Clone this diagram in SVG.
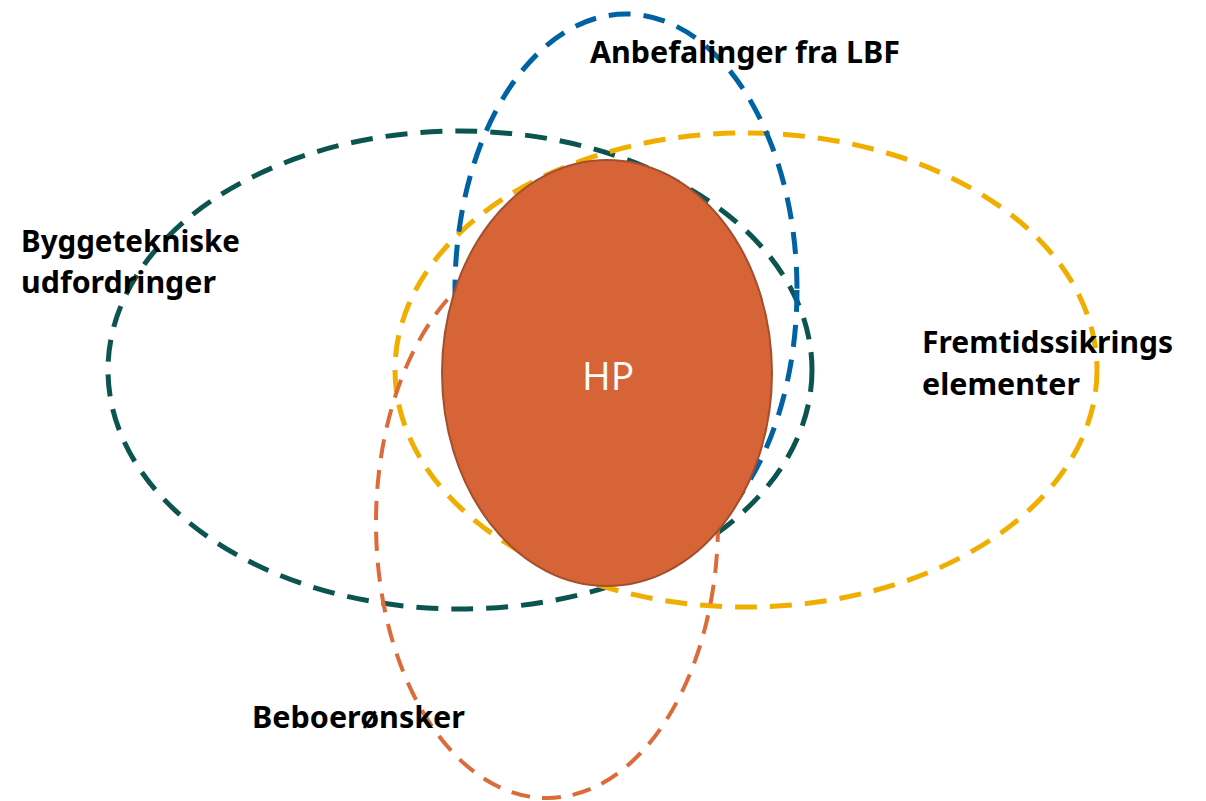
<svg xmlns="http://www.w3.org/2000/svg" width="1206" height="801" viewBox="0 0 1206 801">
<style>
.ring{fill:none;stroke-width:5;stroke-dasharray:22 13}
.lbl{font-family:"Noto Sans","Open Sans","Liberation Sans",sans-serif;font-weight:bold;font-size:31px;fill:#000}
</style>
<rect width="1206" height="801" fill="#fff"/>
<g id="connectors"></g>
<g id="byggetekniske"><ellipse class="ring" cx="460" cy="370" rx="352" ry="239" stroke="#0B5450"/></g>
<g id="fremtid"><ellipse class="ring" cx="746" cy="370" rx="351" ry="237" stroke="#F0AE00"/></g>
<g id="anbefalinger"><ellipse class="ring" cx="626" cy="290" rx="171" ry="276" stroke="#0062A3"/></g>
<g id="beboer"><ellipse class="ring" cx="547" cy="523" rx="171" ry="275" stroke="#DD6A3A" style="stroke-width:4;stroke-dasharray:19 12"/></g>
<g id="hp">
<ellipse cx="607" cy="373" rx="165" ry="213" fill="#D66436" stroke="#A34E2C" stroke-width="2"/>
<text x="608" y="390" text-anchor="middle" font-family="'Open Sans','Liberation Sans',sans-serif" font-size="39" fill="#fff">HP</text>
</g>
<g id="labels">
<text class="lbl" x="590" y="63" textLength="310" lengthAdjust="spacingAndGlyphs">Anbefalinger fra LBF</text>
<text class="lbl" x="21" y="252" textLength="219" lengthAdjust="spacingAndGlyphs">Byggetekniske</text>
<text class="lbl" x="21" y="293" textLength="195" lengthAdjust="spacingAndGlyphs">udfordringer</text>
<text class="lbl" x="922" y="353" textLength="251" lengthAdjust="spacingAndGlyphs">Fremtidssikrings</text>
<text class="lbl" x="922" y="395" textLength="158" lengthAdjust="spacingAndGlyphs">elementer</text>
<text class="lbl" x="252" y="728" textLength="213" lengthAdjust="spacingAndGlyphs">Beboerønsker</text>
</g>
</svg>
